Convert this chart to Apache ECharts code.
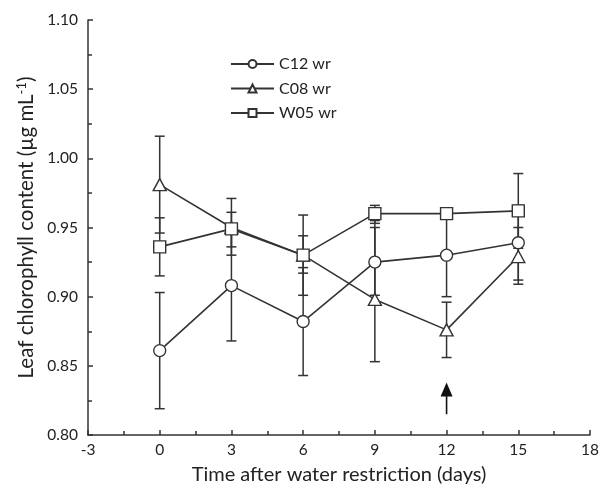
<!DOCTYPE html>
<html>
<head>
<meta charset="utf-8">
<style>
  html, body { margin: 0; padding: 0; background: #fff; }
  #chart { width: 608px; height: 490px; }
</style>
<script src="https://cdn.jsdelivr.net/npm/echarts@6/dist/echarts.min.js"></script>
</head>
<body>
<div id="chart"></div>
<script>
// Days after water restriction
const days = [0, 3, 6, 9, 12, 15];

// Mean leaf chlorophyll content (µg mL-1) per genotype
const c12Mean = [0.861, 0.908, 0.882, 0.925, 0.930, 0.939];
const c08Mean = [0.981, 0.950, 0.930, 0.898, 0.876, 0.929];
const w05Mean = [0.936, 0.949, 0.930, 0.960, 0.960, 0.962];

// Error bar ends (lower / upper)
const c12Low  = [0.819, 0.868, 0.843, 0.901, 0.900, 0.912];
const c12High = [0.903, 0.948, 0.921, 0.950, 0.960, 0.966];
const c08Low  = [0.946, 0.930, 0.901, 0.853, 0.856, 0.909];
const c08High = [1.016, 0.971, 0.959, 0.955, 0.896, 0.950];
const w05Low  = [0.915, 0.936, 0.917, 0.953, 0.958, 0.935];
const w05High = [0.957, 0.961, 0.944, 0.966, 0.962, 0.989];

// Axis ticks
const xTicks = [-3, 0, 3, 6, 9, 12, 15, 18];
const yTicks = [0.80, 0.85, 0.90, 0.95, 1.00, 1.05, 1.10];

// Arrow marking day 12: [day, tail value, tip value]
const arrowMark = [12, 0.815, 0.838];

const ink = '#333333';
const font = 'Lato, "Open Sans", sans-serif';

function errData(low, high) {
  return days.map((d, i) => [d, low[i], high[i]]);
}

function renderErr(params, api) {
  const x = api.value(0);
  const lo = api.coord([x, api.value(1)]);
  const hi = api.coord([x, api.value(2)]);
  const w = 5;
  const style = { stroke: ink, lineWidth: 1.5 };
  return {
    type: 'group',
    children: [
      { type: 'line', shape: { x1: lo[0], y1: lo[1], x2: hi[0], y2: hi[1] }, style },
      { type: 'line', shape: { x1: lo[0] - w, y1: lo[1], x2: lo[0] + w, y2: lo[1] }, style },
      { type: 'line', shape: { x1: hi[0] - w, y1: hi[1], x2: hi[0] + w, y2: hi[1] }, style }
    ]
  };
}

function renderArrow(params, api) {
  const tail = api.coord([api.value(0), api.value(1)]);
  const tip = api.coord([api.value(0), api.value(2)]);
  const headH = 14, headW = 6;
  return {
    type: 'group',
    children: [
      { type: 'line', shape: { x1: tail[0], y1: tail[1], x2: tip[0], y2: tip[1] + headH - 1 },
        style: { stroke: '#111', lineWidth: 1.6 } },
      { type: 'polygon', shape: { points: [[tip[0], tip[1]], [tip[0] - headW, tip[1] + headH], [tip[0] + headW, tip[1] + headH]] },
        style: { fill: '#111' } }
    ]
  };
}

function lineSeries(name, mean, symbol, size) {
  return {
    name,
    type: 'line',
    data: days.map((d, i) => [d, mean[i]]),
    symbol,
    symbolSize: size,
    showAllSymbol: true,
    lineStyle: { color: ink, width: 1.6 },
    itemStyle: { color: '#fff', borderColor: ink, borderWidth: 1.4 },
    emphasis: { disabled: true },
    z: 3
  };
}

const chart = echarts.init(document.getElementById('chart'), null, { renderer: 'canvas' });

chart.setOption({
  animation: false,
  backgroundColor: '#fff',
  grid: { left: 88, right: 18, top: 20, bottom: 50, containLabel: false },
  legend: {
    data: ['C12 wr', 'C08 wr', 'W05 wr'],
    orient: 'vertical',
    left: 230,
    top: 56,
    padding: 0,
    itemWidth: 43,
    itemHeight: 10,
    itemGap: 8.5,
    textStyle: { fontFamily: font, fontSize: 16, color: '#222', padding: [0, 0, 0, 0] },
    selectedMode: false
  },
  xAxis: {
    type: 'value',
    min: xTicks[0],
    max: xTicks[xTicks.length - 1],
    interval: 3,
    name: 'Time after water restriction (days)',
    nameLocation: 'middle',
    nameGap: 30,
    nameTextStyle: { fontFamily: font, fontSize: 20, color: '#222' },
    axisLine: { onZero: false, lineStyle: { color: ink, width: 1.5 } },
    axisTick: { inside: true, length: 5, lineStyle: { color: ink, width: 1.5 } },
    minorTick: { show: true, splitNumber: 2, length: 4, lineStyle: { color: ink, width: 1.5 } },
    axisLabel: { fontFamily: font, fontSize: 15.5, color: '#222', margin: 7 },
    splitLine: { show: false }
  },
  yAxis: {
    type: 'value',
    min: yTicks[0],
    max: yTicks[yTicks.length - 1],
    interval: 0.05,
    name: 'Leaf chlorophyll content (µg mL{sup|-1})',
    nameLocation: 'middle',
    nameGap: 49,
    nameTextStyle: {
      fontFamily: font, fontSize: 20.5, color: '#222',
      rich: { sup: { fontFamily: font, fontSize: 13, color: '#222', verticalAlign: 'top', padding: [0, 0, 8, 0] } }
    },
    axisLine: { show: true, onZero: false, lineStyle: { color: ink, width: 1.5 } },
    axisTick: { show: true, inside: true, length: 5, lineStyle: { color: ink, width: 1.5 } },
    minorTick: { show: true, splitNumber: 2, length: 4, lineStyle: { color: ink, width: 1.5 } },
    axisLabel: { fontFamily: font, fontSize: 15.5, color: '#222', margin: 10, formatter: v => v.toFixed(2) },
    splitLine: { show: false }
  },
  series: [
    { type: 'custom', renderItem: renderErr, data: errData(c12Low, c12High), z: 1, silent: true },
    { type: 'custom', renderItem: renderErr, data: errData(c08Low, c08High), z: 1, silent: true },
    { type: 'custom', renderItem: renderErr, data: errData(w05Low, w05High), z: 1, silent: true },
    lineSeries('C12 wr', c12Mean, 'circle', 12),
    lineSeries('C08 wr', c08Mean, 'triangle', [13, 12]),
    lineSeries('W05 wr', w05Mean, 'rect', 12),
    { type: 'custom', renderItem: renderArrow, data: [arrowMark], z: 4, silent: true }
  ]
});
</script>
</body>
</html>
